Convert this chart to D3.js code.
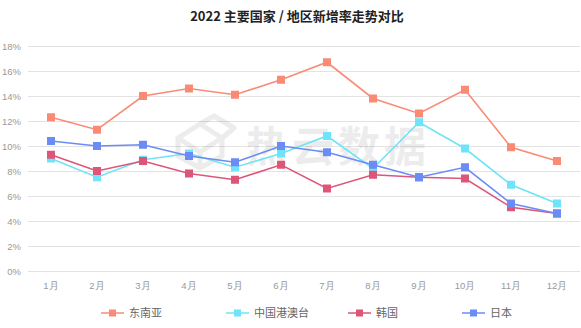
<!DOCTYPE html>
<html>
<head>
<meta charset="utf-8">
<script src="https://cdn.jsdelivr.net/npm/d3@7/dist/d3.min.js"></script>
<style>
  html, body { margin: 0; padding: 0; background: #fff; }
  svg { display: block; font-family: "Noto Sans CJK SC", "Noto Sans", sans-serif; }
</style>
</head>
<body>
<svg id="chart" width="581" height="328"></svg>
<script>
// Monthly new-growth rates (%) by region, 2022
const months = ["1月","2月","3月","4月","5月","6月","7月","8月","9月","10月","11月","12月"];
const seriesNames = ["东南亚","中国港澳台","韩国","日本"];
const seaValues   = [12.3, 11.3, 14.0, 14.6, 14.1, 15.3, 16.7, 13.8, 12.6, 14.5, 9.9, 8.8];
const hkmtValues  = [9.0, 7.5, 8.9, 9.4, 8.3, 9.4, 10.8, 8.2, 11.9, 9.8, 6.9, 5.4];
const krValues    = [9.3, 8.0, 8.8, 7.8, 7.3, 8.5, 6.6, 7.7, 7.5, 7.4, 5.1, 4.6];
const jpValues    = [10.4, 10.0, 10.1, 9.2, 8.7, 10.0, 9.5, 8.5, 7.5, 8.3, 5.4, 4.6];
const yTicks = [0, 2, 4, 6, 8, 10, 12, 14, 16, 18];
const colors = ["#f98b76", "#6fe3f7", "#dd5679", "#6b8cf4"];

const series = [seaValues, hkmtValues, krValues, jpValues].map((vals, i) => ({
  name: seriesNames[i], color: colors[i], values: vals
}));

const svg = d3.select("#chart");
const plot = { left: 28, right: 580, top: 46, bottom: 271 };

const x = d3.scaleBand().domain(months).range([plot.left, plot.right]);
const y = d3.scaleLinear().domain([0, 18]).range([plot.bottom, plot.top]);
const cx = m => x(m) + x.bandwidth() / 2;

// Title
svg.append("text")
  .attr("x", 297).attr("y", 21)
  .attr("text-anchor", "middle")
  .attr("font-size", 13).attr("font-weight", "bold").attr("fill", "#222")
  .text("2022 主要国家 / 地区新增率走势对比");

// Horizontal grid + y labels
const yAxis = svg.append("g")
  .attr("transform", `translate(${plot.left},0)`)
  .call(d3.axisLeft(y).tickValues(yTicks).tickFormat(d => d + "%")
        .tickSize(-(plot.right - plot.left)).tickPadding(7));
yAxis.select(".domain").remove();
yAxis.selectAll(".tick line").attr("stroke", "#e3e3e3").attr("stroke-width", 1);
yAxis.selectAll(".tick text").attr("fill", "#999").attr("font-size", 9.5)
  .attr("font-family", "Liberation Sans, Arial, sans-serif");

// x labels
const xAxis = svg.append("g")
  .attr("transform", `translate(0,${plot.bottom})`)
  .call(d3.axisBottom(x).tickSize(0).tickPadding(11));
xAxis.select(".domain").remove();
xAxis.selectAll(".tick text").attr("fill", "#999").attr("font-size", 9.5);

// Watermark
const wm = svg.append("g").attr("opacity", 0.07);
wm.append("text")
  .attr("x", 246).attr("y", 162)
  .attr("font-size", 42).attr("font-weight", "bold").attr("fill", "#000")
  .attr("letter-spacing", 4)
  .text("热云数据");
const logo = wm.append("g").attr("fill", "none").attr("stroke", "#000").attr("stroke-width", 5).attr("stroke-linejoin", "round");
logo.append("path").attr("d", "M178,138 L200,124 L222,138 L200,152 Z");
logo.append("path").attr("d", "M178,138 L178,156 L200,168 L200,152");
logo.append("path").attr("d", "M222,138 L222,156 L200,168");
logo.append("path").attr("d", "M200,124 L214,116 L234,128 L222,138");

// Lines and square markers
const line = d3.line().x((d, i) => cx(months[i])).y(d => y(d));
const ms = 8;
series.forEach(s => {
  const g = svg.append("g");
  g.append("path").datum(s.values)
    .attr("d", line).attr("fill", "none")
    .attr("stroke", s.color).attr("stroke-width", 1.6);
  g.selectAll("rect").data(s.values).join("rect")
    .attr("x", (d, i) => cx(months[i]) - ms / 2)
    .attr("y", d => y(d) - ms / 2)
    .attr("width", ms).attr("height", ms)
    .attr("fill", s.color);
});

// Legend
const legendX = [101, 226, 348, 462];
const legendY = 313;
series.forEach((s, i) => {
  const g = svg.append("g").attr("transform", `translate(${legendX[i]},${legendY})`);
  g.append("line").attr("x1", 0).attr("x2", 23).attr("y1", 0).attr("y2", 0)
    .attr("stroke", s.color).attr("stroke-width", 2).attr("opacity", 0.75);
  g.append("rect").attr("x", 8).attr("y", -3.5).attr("width", 7).attr("height", 7).attr("fill", s.color);
  g.append("text").attr("x", 28).attr("y", 4).attr("font-size", 11).attr("fill", "#666").text(s.name);
});
</script>
</body>
</html>
